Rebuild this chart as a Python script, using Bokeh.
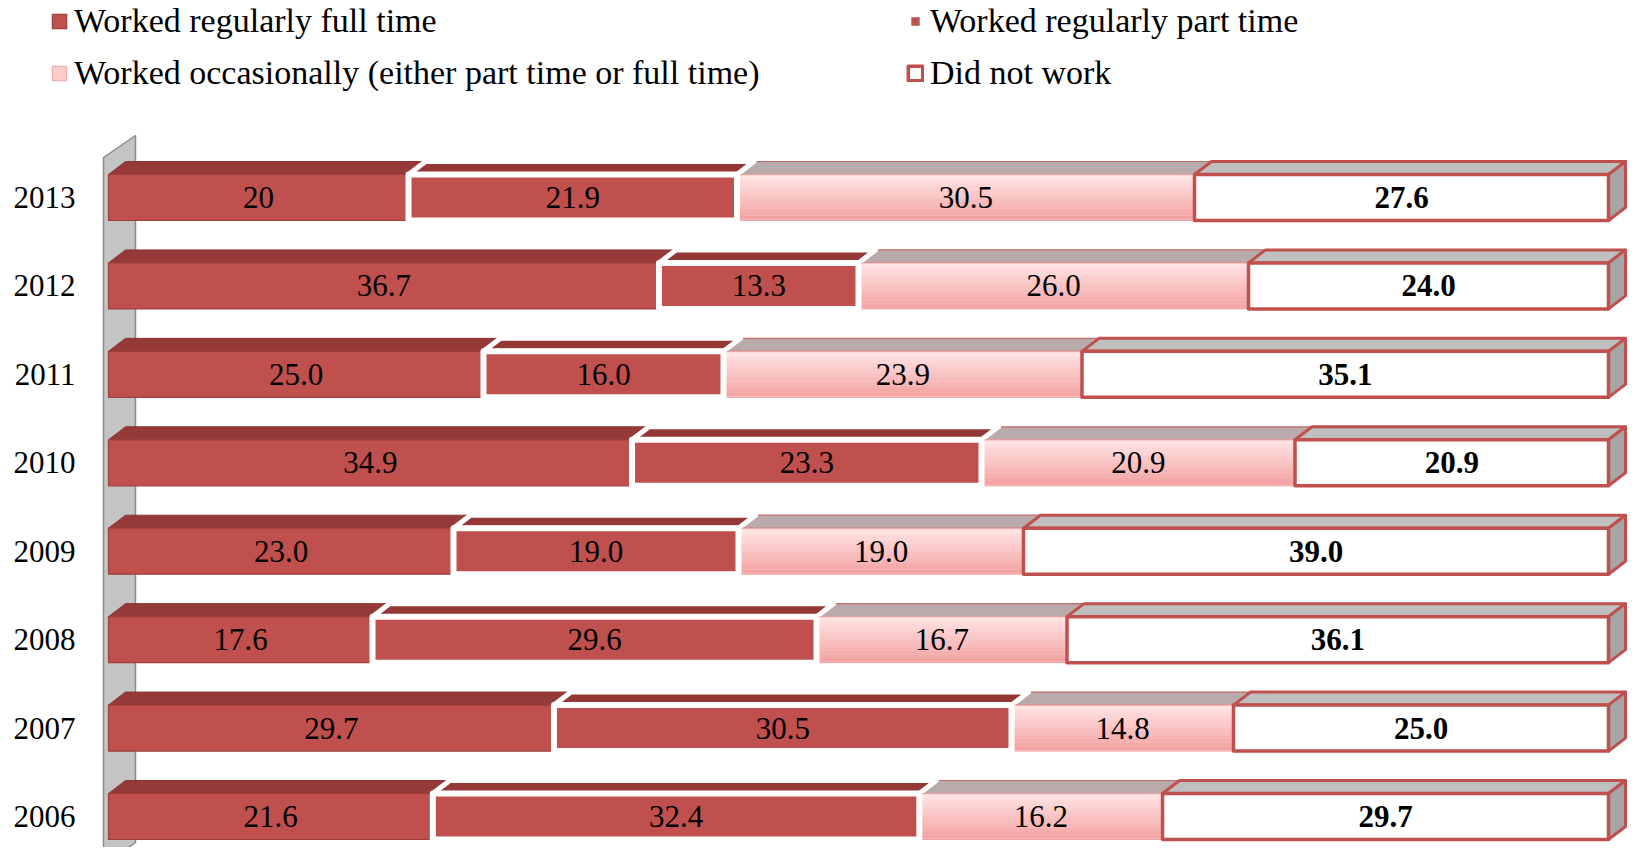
from bokeh.plotting import figure
from bokeh.models import Range1d, Legend, LegendItem, ColumnDataSource
from bokeh.core.properties import value
from bokeh.embed import file_html
from bokeh.resources import INLINE

# ---------------- data ----------------
years = ["2006", "2007", "2008", "2009", "2010", "2011", "2012", "2013"]
full_time = [21.6, 29.7, 17.6, 23.0, 34.9, 25.0, 36.7, 20]
part_time = [32.4, 30.5, 29.6, 19.0, 23.3, 16.0, 13.3, 21.9]
occasional = [16.2, 14.8, 16.7, 19.0, 20.9, 23.9, 26.0, 30.5]
did_not_work = [29.7, 25.0, 36.1, 39.0, 20.9, 35.1, 24.0, 27.6]
series_names = ["Worked regularly full time",
                "Worked regularly part time",
                "Worked occasionally (either part time or full time)",
                "Did not work"]

series = [full_time, part_time, occasional, did_not_work]

# ---------------- geometry (screen-px based styling) ----------------
W, H = 1628, 847
X0 = 108            # px where 0 % sits
X100 = 1608         # px where 100 % sits
PX_X = (X100 - X0) / 100.0
ROW7_Y = 197        # px of the top row (2013) centre
ROW0_Y = 816        # px of the bottom row (2006) centre
PX_Y = (ROW0_Y - ROW7_Y) / 7.0

HALF = 23 / PX_Y
DX = 17 / PX_X
DY = 13 / PX_Y

def fx(px):
    return (px - X0) / PX_X

def fy(py):
    return 7 - (py - ROW7_Y) / PX_Y

p = figure(width=W, height=H, output_backend="svg", toolbar_location=None,
           x_range=Range1d(fx(0), fx(W)), y_range=Range1d(fy(H), fy(0)),
           x_axis_location=None, y_axis_location=None,
           min_border_left=0, min_border_right=0,
           min_border_top=0, min_border_bottom=0)
p.grid.visible = False
p.outline_line_color = None
p.background_fill_color = "white"

rows = list(range(len(years)))

# ---------------- back wall ----------------
p.patch([fx(103), fx(135), fx(135), fx(103)], [fy(157), fy(135), fy(842), fy(865)],
        fill_color="#c4c4c4", line_color="#8a8a8a", line_width=1.5)

# ---------------- year labels (category axis) ----------------
p.text(x=[fx(75)] * len(rows), y=rows, text=years,
       text_align="right", text_baseline="middle",
       text_font=value("Liberation Serif"), text_font_size="31px",
       text_color="black")

# ---------------- stacking ----------------
totals = [sum(s[i] for s in series) for i in rows]
lefts, rights = [], []
cum = [0.0] * len(rows)
for s in series:
    l = [cum[i] / totals[i] * 100 for i in rows]
    for i in rows:
        cum[i] += s[i]
    r = [cum[i] / totals[i] * 100 for i in rows]
    lefts.append(l)
    rights.append(r)

front_style = [
    dict(fill_color="#c0504d", line_color="#9e3f3c", line_width=1.2),
    dict(fill_color="#c0504d", line_color="white", line_width=6),
    dict(fill_color="#fbcaca", line_color="#eba3a3", line_width=1),
    dict(fill_color="white", line_color="#c0504d", line_width=3.5),
]
top_style = [
    dict(fill_color="#953a38", line_color="#8a3331", line_width=1),
    dict(fill_color="#943836", line_color="white", line_width=5),
    dict(fill_color="#b9abab", line_color="#c46a68", line_width=1.2),
    dict(fill_color="#bfbfbf", line_color="#c0504d", line_width=3),
]

def top_faces(k):
    xs, ys = [], []
    for i in rows:
        L, R = lefts[k][i], rights[k][i]
        yt = i + HALF
        xs.append([L, R, R + DX, L + DX])
        ys.append([yt, yt, yt + DY, yt + DY])
    return xs, ys

# top faces (order: 1, 3, 4, 2 so that borders overlap as in reference)
for k in [0, 2, 3, 1]:
    xs, ys = top_faces(k)
    p.patches(xs, ys, line_join="round", **top_style[k])

# side face of the last segment
sxs, sys_ = [], []
for i in rows:
    R = rights[3][i]
    yb, yt = i - HALF, i + HALF
    sxs.append([R, R + DX, R + DX, R])
    sys_.append([yb, yb + DY, yt + DY, yt])
p.patches(sxs, sys_, fill_color="#a6a6a6", line_color="#c0504d", line_width=3, line_join="round")

# front faces
front_r = {}
for k in [0, 2, 3, 1]:
    src = ColumnDataSource(dict(left=lefts[k], right=rights[k],
                                bottom=[i - HALF for i in rows],
                                top=[i + HALF for i in rows]))
    front_r[k] = p.quad(left="left", right="right", bottom="bottom", top="top",
                        source=src, line_join="round", **front_style[k])
    if k == 2:
        # vertical gradient of the "occasionally" bars
        N = 12
        c_top = (255, 226, 226)
        c_bot = (244, 164, 164)
        ex = 1.0 / PX_X
        ey = 1.0 / PX_Y
        gl, gr, gb, gt, gc = [], [], [], [], []
        for i in rows:
            y0 = i - HALF + ey
            h = (2 * HALF - 2 * ey) / N
            for n in range(N):
                t = n / (N - 1)
                c = tuple(int(round(c_bot[j] + (c_top[j] - c_bot[j]) * t)) for j in range(3))
                gl.append(lefts[k][i] + ex)
                gr.append(rights[k][i] - ex)
                gb.append(y0 + n * h)
                gt.append(y0 + (n + 1) * h + 0.001)
                gc.append("#%02x%02x%02x" % c)
        p.quad(left=gl, right=gr, bottom=gb, top=gt, fill_color=gc, line_color=None)

# value labels
def fmt(v):
    return str(v) if isinstance(v, int) else f"{v:.1f}"

for k, s in enumerate(series):
    cx = [(lefts[k][i] + rights[k][i]) / 2 for i in rows]
    p.text(x=cx, y=rows, text=[fmt(v) for v in s],
           text_align="center", text_baseline="middle",
           text_font=value("Liberation Serif"), text_font_size="31px",
           text_color="black",
           text_font_style="bold" if k == 3 else "normal")

# legend
legend = Legend(
    items=[LegendItem(label=series_names[k], renderers=[front_r[k]]) for k in range(4)],
    location=(50, 755), orientation="horizontal", ncols=2,
    glyph_width=18, glyph_height=18, label_standoff=6,
    label_width=818, label_height=38, spacing=14, padding=0, margin=0,
    border_line_color=None, background_fill_alpha=0,
    label_text_font="Liberation Serif", label_text_font_size="34px",
    label_text_color="black", label_text_baseline="middle",
)
p.add_layout(legend, "center")

open("out.html", "w").write(file_html(p, INLINE))
